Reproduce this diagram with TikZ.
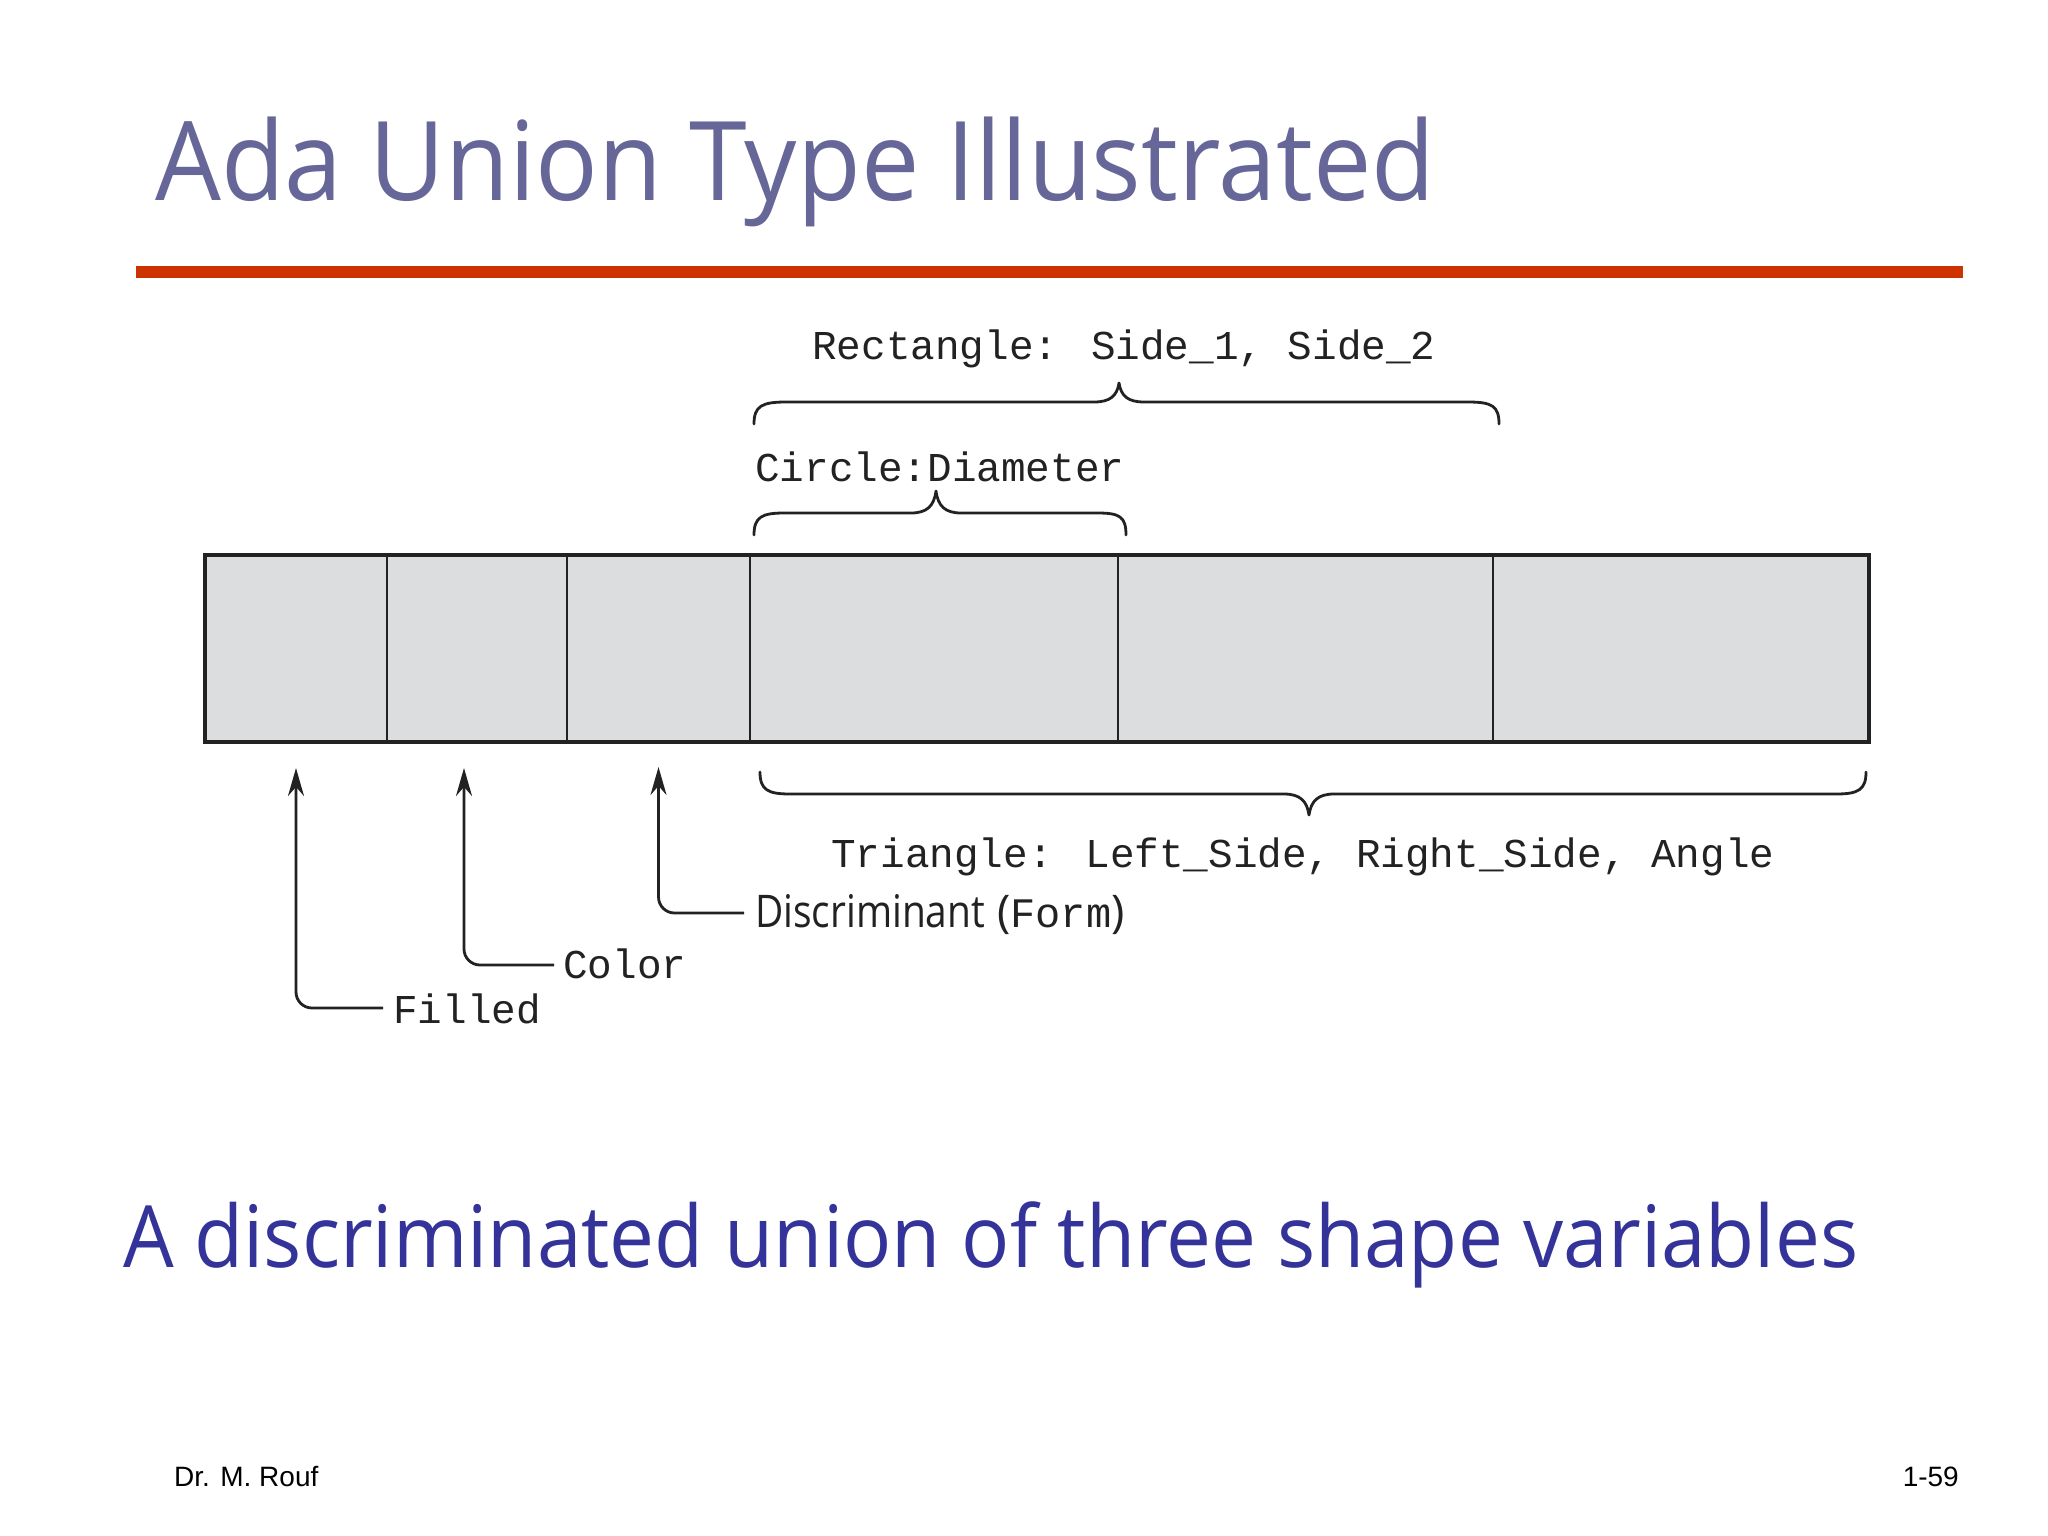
\documentclass[tikz,border=0pt]{standalone}
\usepackage{fontspec}
\usepackage{graphicx}
\usetikzlibrary{arrows.meta}
\newfontfamily\titlefont{Open Sans}
\newfontfamily\codefont{Liberation Mono}
\newfontfamily\footfont{Liberation Sans}
\definecolor{titlecol}{HTML}{666699}
\definecolor{subcol}{HTML}{333399}
\definecolor{rulecol}{HTML}{CC3300}
\definecolor{cellfill}{HTML}{DCDDDF}
\definecolor{ink}{HTML}{222222}
\tikzset{
  cell/.style={draw=ink, fill=cellfill, line width=2.8pt, minimum height=187pt, inner sep=0pt, outer sep=0pt},
  codelabel/.style={anchor=base west, inner sep=0pt, text=ink, font=\codefont\fontsize{41}{41}\selectfont},
  bracepath/.style={draw=ink, line width=2.8pt, line cap=round, line join=round},
  arr/.style={draw=ink, line width=2.8pt, rounded corners=16pt, -{Stealth[length=28pt,width=16pt]}},
}
\begin{document}
\begin{tikzpicture}[x=1pt,y=-1pt]
\useasboundingbox (0,0) rectangle (2048,1536);
% title
\node[anchor=base west, inner sep=0pt, text=titlecol] (title) at (155,200)
  {\resizebox{1280pt}{\height}{\titlefont\fontsize{110}{110}\selectfont Ada Union Type Illustrated}};
\fill[rulecol] (136,266) rectangle (1963,278);
% cells
\node[cell, minimum width=182pt] (c1) at (296,648.5) {};
\node[cell, minimum width=180pt] (c2) at (477,648.5) {};
\node[cell, minimum width=183pt] (c3) at (658.5,648.5) {};
\node[cell, minimum width=368pt] (c4) at (934,648.5) {};
\node[cell, minimum width=375pt] (c5) at (1305.5,648.5) {};
\node[cell, minimum width=376pt] (c6) at (1681,648.5) {};
\draw[draw=ink, line width=3.2pt] (c1.north west) rectangle (c6.south east);
% braces above
\draw[bracepath] (754,424) .. controls (754,406) and (762,402) .. (786,402) -- (1094,402)
  .. controls (1110,402) and (1117,396) .. (1119,383)
  .. controls (1121,396) and (1128,402) .. (1144,402) -- (1468,402)
  .. controls (1492,402) and (1499,406) .. (1499,424);
\node[codelabel] (rect) at (812,359) {Rectangle: Side\_1, Side\_2};
\draw[bracepath] (754,535) .. controls (754,517) and (762,513) .. (784,513) -- (911,513)
  .. controls (927,513) and (934,506) .. (936,491)
  .. controls (938,506) and (945,513) .. (961,513) -- (1098,513)
  .. controls (1120,513) and (1126,517) .. (1126,535);
\node[codelabel] (circ) at (755,481) {Circle:Diameter};
% brace below
\draw[bracepath] (760,772) .. controls (760,790) and (768,794) .. (790,794) -- (1284,794)
  .. controls (1300,794) and (1307,801) .. (1309,815)
  .. controls (1311,801) and (1318,794) .. (1334,794) -- (1836,794)
  .. controls (1858,794) and (1866,790) .. (1866,772);
\node[codelabel] (tri) at (831,867) {Triangle: Left\_Side, Right\_Side, Angle};
% labels with arrows
\node[codelabel] (filled) at (393,1023) {Filled};
\node[codelabel] (color) at (563,978) {Color};
\node[anchor=base west, inner sep=0pt, text=ink] (disc) at (755,927)
  {\resizebox{230pt}{\height}{\titlefont\fontsize{45}{45}\selectfont Discriminant}\hspace{12pt}{\titlefont\fontsize{45}{45}\selectfont(}{\codefont\fontsize{42}{42}\selectfont Form}{\titlefont\fontsize{45}{45}\selectfont)}};
\draw[arr] ([xshift=-10pt,yshift=15pt]filled.base west) -| ([yshift=-26pt]c1.south);
\draw[arr] ([xshift=-9pt,yshift=13pt]color.base west) -| ([xshift=-13pt,yshift=-26pt]c2.south);
\draw[arr] ([xshift=-11pt,yshift=14pt]disc.base west) -| ([yshift=-25pt]c3.south);
% subtitle
\node[anchor=base west, inner sep=0pt, text=subcol] (sub) at (123,1267)
  {\resizebox{1735pt}{\height}{\titlefont\fontsize{86}{86}\selectfont A discriminated union of three shape variables}};
% footer
\node[anchor=base west, inner sep=0pt, text=black, font=\footfont\fontsize{28}{28}\selectfont] (author) at (174,1486) {Dr. M. Rouf};
\node[anchor=base east, inner sep=0pt, text=black, font=\footfont\fontsize{28}{28}\selectfont] (page) at (1959,1486) {1-59};
\end{tikzpicture}
\end{document}
